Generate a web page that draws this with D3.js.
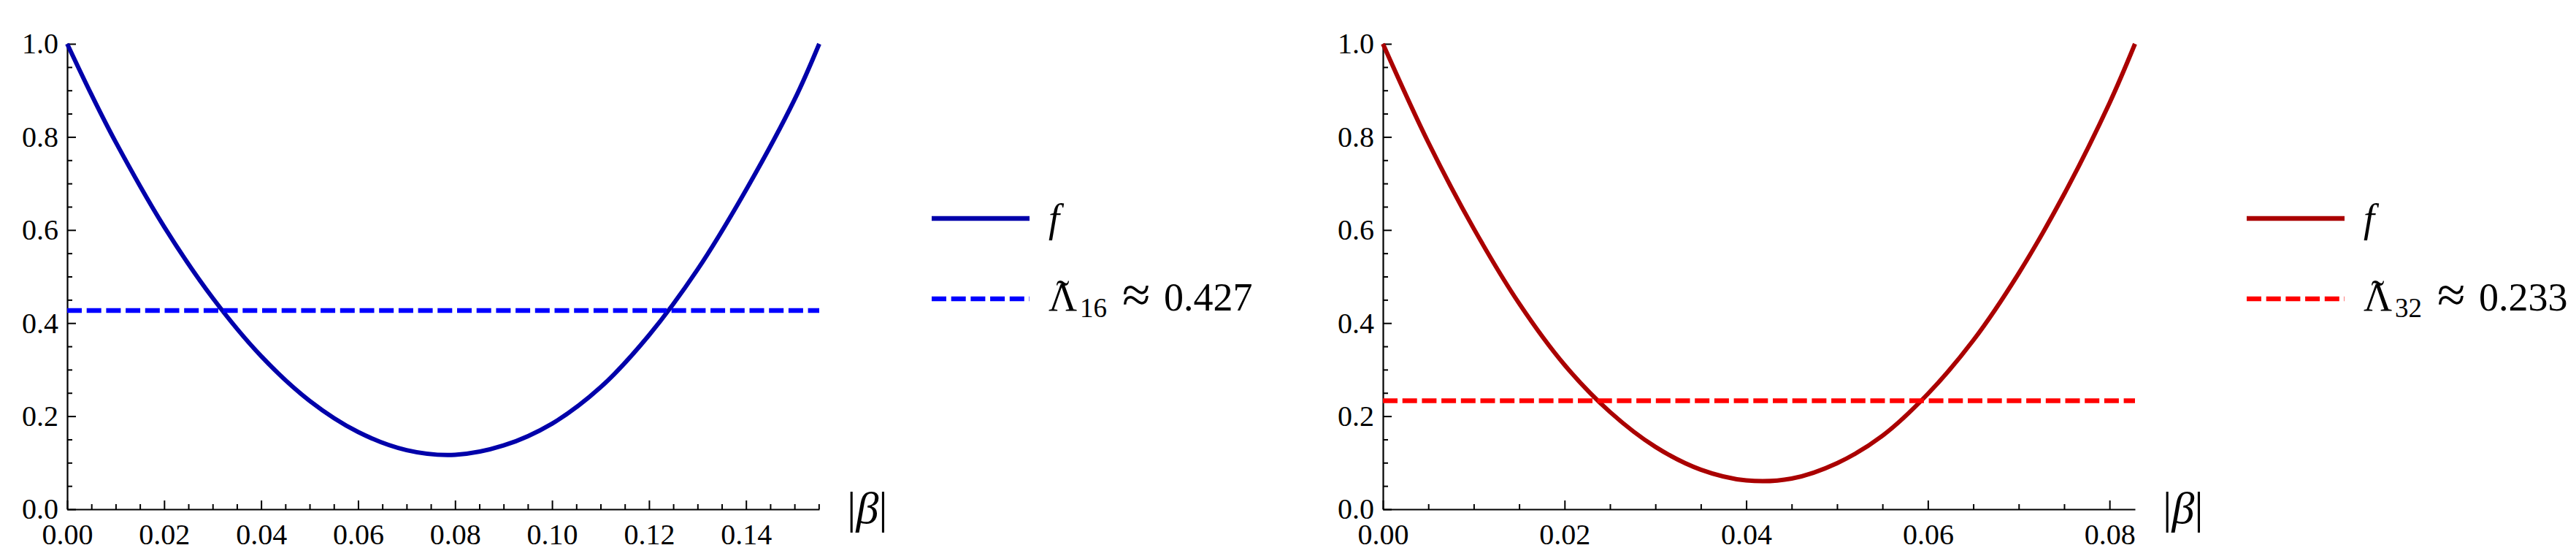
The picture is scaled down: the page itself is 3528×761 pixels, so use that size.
<!DOCTYPE html>
<html><head><meta charset="utf-8">
<script src="https://cdn.jsdelivr.net/npm/d3@7"></script>
<style>
body{margin:0;background:#fff;}
</style>
</head><body>
<svg id="c" width="3528" height="761" xmlns="http://www.w3.org/2000/svg"></svg>
<script>
// ---- data ----
const leftBeta  = [0, 0.005, 0.01, 0.02, 0.03, 0.04, 0.05, 0.06, 0.07, 0.08, 0.09, 0.10, 0.11, 0.12, 0.13, 0.14, 0.15, 0.1551];
const leftF     = [1.0, 0.891, 0.789, 0.607, 0.454, 0.329, 0.233, 0.166, 0.127, 0.117, 0.137, 0.184, 0.262, 0.374, 0.515, 0.686, 0.880, 1.0];
const rightBeta = [0, 0.005, 0.01, 0.015, 0.02, 0.025, 0.03, 0.035, 0.04, 0.045, 0.05, 0.055, 0.06, 0.065, 0.07, 0.075, 0.08, 0.0828];
const rightF    = [1.0, 0.788, 0.603, 0.442, 0.310, 0.209, 0.134, 0.085, 0.062, 0.066, 0.099, 0.158, 0.248, 0.363, 0.507, 0.677, 0.873, 1.0];
const leftXMax = 0.1551, rightXMax = 0.0828;
const leftLambda = 0.427, rightLambda = 0.233;
const leftXTicks  = [0, 0.02, 0.04, 0.06, 0.08, 0.10, 0.12, 0.14];
const rightXTicks = [0, 0.02, 0.04, 0.06, 0.08];
const yTicks = [0, 0.2, 0.4, 0.6, 0.8, 1.0];
const leftLegend  = {sub: "16", val: "0.427"};
const rightLegend = {sub: "32", val: "0.233"};

// pick an installed serif face by measuring text against fallbacks
const ctx = document.createElement("canvas").getContext("2d");
function has(f) {
  const s = "mmmmmmmmmmlli0123456789WwQq";
  return ["monospace", "sans-serif"].every(fb => {
    ctx.font = `72px ${fb}`; const a = ctx.measureText(s).width;
    ctx.font = `72px "${f}", ${fb}`; const b = ctx.measureText(s).width;
    return a !== b;
  });
}
const candidates = ["Liberation Serif", "Tinos", "Times New Roman", "DejaVu Serif", "Noto Serif"];
const found = candidates.filter(has);
const FONT = (found.length ? `"${found[0]}", ` : "") + "serif";

const svg = d3.select("#c");

function panel(o) {
  const g = svg.append("g");
  const x = d3.scaleLinear().domain([0, o.xMax]).range([o.x0, o.x0 + 1030]);
  const y = d3.scaleLinear().domain([0, 1]).range([697, 60]);

  const xMinor = d3.range(0, o.xMax + 1e-9, 0.005).filter(v => Math.abs(v / 0.02 - Math.round(v / 0.02)) > 1e-6);
  const yMinor = d3.range(0, 1.0001, 0.05).filter(v => Math.abs(v / 0.2 - Math.round(v / 0.2)) > 1e-6);

  const gxm = g.append("g").attr("transform", "translate(0,697)")
    .call(d3.axisBottom(x).tickValues(xMinor).tickSize(-7).tickSizeOuter(0).tickFormat(""));
  gxm.select(".domain").remove();
  const gym = g.append("g").attr("transform", `translate(${o.x0},0)`)
    .call(d3.axisLeft(y).tickValues(yMinor).tickSize(-7).tickSizeOuter(0).tickFormat(""));
  gym.select(".domain").remove();

  g.append("g").attr("transform", "translate(0,697)")
    .call(d3.axisBottom(x).tickValues(o.xTicks).tickSize(-12).tickSizeOuter(0).tickPadding(20).tickFormat(d3.format(".2f")));
  g.append("g").attr("transform", `translate(${o.x0},0)`)
    .call(d3.axisLeft(y).tickValues(yTicks).tickSize(-12).tickSizeOuter(0).tickPadding(12).tickFormat(d3.format(".1f")));

  g.selectAll(".domain").attr("stroke", "#000").attr("stroke-width", 2.2);
  g.selectAll(".tick line").attr("stroke", "#000").attr("stroke-width", 2);
  g.selectAll(".tick text").attr("font-size", 40).attr("fill", "#000");

  const pts = o.beta.map((b, i) => [b, o.f[i]]);
  const line = d3.line().x(d => x(d[0])).y(d => y(d[1])).curve(d3.curveCatmullRom.alpha(0.5));
  g.append("path").datum(pts).attr("d", line).attr("fill", "none")
    .attr("stroke", o.dark).attr("stroke-width", 6).attr("stroke-linejoin", "round");

  g.append("line").attr("x1", x(0)).attr("x2", x(o.xMax)).attr("y1", y(o.lambda)).attr("y2", y(o.lambda))
    .attr("stroke", o.light).attr("stroke-width", 6.5).attr("stroke-dasharray", "20,6.7");

  const lab = g.append("text").attr("x", x(o.xMax) + 38).attr("y", 716).attr("font-size", 62);
  lab.append("tspan").text("|");
  lab.append("tspan").attr("font-style", "italic").text("β");
  lab.append("tspan").text("|");

  const lx = o.legendX;
  g.append("line").attr("x1", lx).attr("x2", lx + 134).attr("y1", 299).attr("y2", 299)
    .attr("stroke", o.dark).attr("stroke-width", 6.5);
  g.append("line").attr("x1", lx).attr("x2", lx + 134).attr("y1", 409).attr("y2", 409)
    .attr("stroke", o.light).attr("stroke-width", 6.5).attr("stroke-dasharray", "20,6.7");
  const tx = lx + 160;
  g.append("text").attr("x", tx).attr("y", 317).attr("font-size", 54).attr("font-style", "italic").text("f");
  const t = g.append("text").attr("x", tx).attr("y", 425).attr("font-size", 54);
  t.append("tspan").text("Λ");
  t.append("tspan").attr("x", tx + 19.5).attr("dy", -4).attr("text-anchor", "middle").text("˜");
  t.append("tspan").attr("x", tx + 43).attr("dy", 13).attr("text-anchor", "start").attr("font-size", 37).text(o.legend.sub);
  t.append("tspan").attr("x", tx + 101).attr("dy", -7).attr("font-size", 70).text("≈");
  t.append("tspan").attr("x", tx + 158).attr("dy", -2).attr("font-size", 54).text(o.legend.val);

  g.selectAll("text").attr("font-family", FONT).attr("fill", "#000");
  g.selectAll("g").attr("font-family", FONT);
}

panel({x0: 92, xMax: leftXMax, xTicks: leftXTicks, beta: leftBeta, f: leftF, lambda: leftLambda,
       dark: "#0000AA", light: "#0000FF", legendX: 1276, legend: leftLegend});
panel({x0: 1894, xMax: rightXMax, xTicks: rightXTicks, beta: rightBeta, f: rightF, lambda: rightLambda,
       dark: "#AA0000", light: "#FF0000", legendX: 3077, legend: rightLegend});
</script>
</body></html>
